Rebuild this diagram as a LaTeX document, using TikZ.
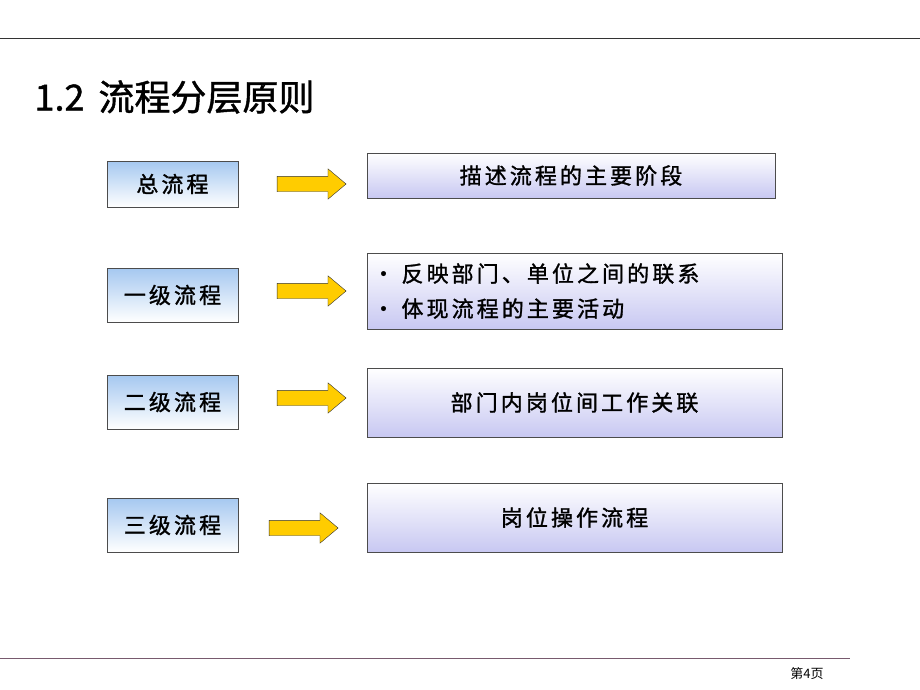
\documentclass[tikz,border=0pt]{standalone}
\usepackage{fontspec}
\setmainfont{Noto Sans CJK SC}
\newfontfamily\cjk{Noto Sans CJK SC}[LetterSpace=14, FakeBold=1.3]
\newfontfamily\headfont{Noto Sans CJK SC}[FakeBold=1.2]
\usetikzlibrary{shapes.arrows, positioning}
\definecolor{skyblue}{RGB}{165,200,240}
\definecolor{lavender}{RGB}{200,200,242}
\definecolor{gold}{RGB}{255,204,0}
\definecolor{rule}{RGB}{120,90,110}

\begin{document}
\begin{tikzpicture}[x=1pt,y=-1pt,
      levelbox/.style={draw=black!70, top color=skyblue, bottom color=white,
        minimum width=131pt, inner sep=0pt, font=\cjk\fontsize{22}{26}\selectfont},
      descbox/.style={draw=black!70, top color=white, bottom color=lavender,
        minimum width=415pt, inner sep=0pt, font=\cjk\fontsize{22}{26}\selectfont},
      yarrow/.style={single arrow, draw=black!80, fill=gold, minimum height=69pt,
        inner xsep=0pt, inner ysep=7.5pt, single arrow head extend=7.5pt,
        single arrow tip angle=80}]
      \useasboundingbox (0,0) rectangle (920,690);
      \draw[black!80, line width=0.8pt] (0,38) -- (920,38);
      \node[anchor=west, font=\headfont\fontsize{36}{40}\selectfont] (title) at (31,97) {1.2\hspace{14pt}流程分层原则};
      % left column
      \node[levelbox, minimum height=46pt] (l1) at (172.5,184) {总流程};
      \node[levelbox, minimum height=54pt] (l2) at (172.5,295) {一级流程};
      \node[levelbox, minimum height=54pt] (l3) at (172.5,402) {二级流程};
      \node[levelbox, minimum height=54pt] (l4) at (172.5,525) {三级流程};
      % arrows
      \node[yarrow] (a1) at (307,184) {};
      \node[yarrow] (a2) at (307,291) {};
      \node[yarrow] (a3) at (307,398) {};
      \node[yarrow] (a4) at (299,528) {};
      % right column
      \node[descbox, minimum width=408pt, minimum height=45pt] (d1) at (571,175.5) {描述流程的主要阶段};
      \node[descbox, minimum height=76pt, align=left, text width=404pt, font=\cjk\fontsize{22}{35}\selectfont]
        (d2) at (574.5,291) {•\hspace{7pt}反映部门、单位之间的联系\\•\hspace{7pt}体现流程的主要活动};
      \node[descbox, minimum height=69pt] (d3) at (574.5,402.5) {部门内岗位间工作关联};
      \node[descbox, minimum height=69pt] (d4) at (574.5,517.5) {岗位操作流程};
      % footer
      \draw[rule, line width=1pt] (0,658) -- (850,658);
      \node[font=\fontsize{13}{15}\selectfont] (page) at (807,674) {第4页};
    \end{tikzpicture}
\end{document}
